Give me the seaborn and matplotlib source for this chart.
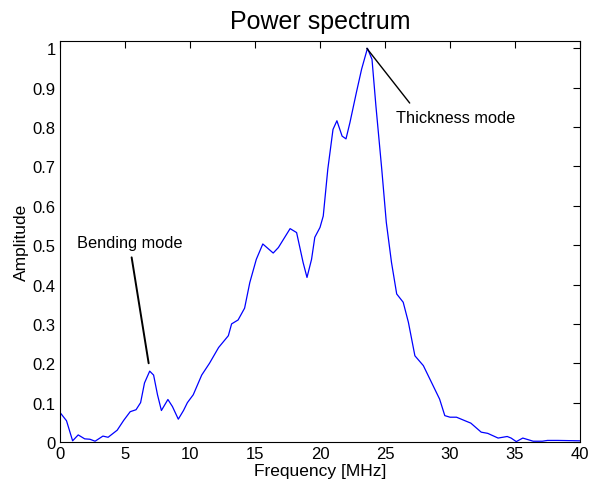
import pandas as pd
import seaborn as sns
import matplotlib
matplotlib.use("Agg")
import matplotlib.pyplot as plt

# values
freq_mhz = [0, 0.5, 0.97, 1.4, 1.9, 2.3, 2.7, 3.3, 3.7, 4.4,
            4.9, 5.4, 5.85, 6.2, 6.5, 6.9, 7.2, 7.5, 7.8, 8.3,
            8.65, 9.1, 9.5, 9.8, 10.25, 10.9, 11.5, 12.2, 12.95, 13.2,
            13.7, 14.2, 14.6, 15.1, 15.6, 16.4, 16.8, 17.7, 18.2, 18.7,
            19.0, 19.35, 19.6, 20.0, 20.25, 20.6, 21.0, 21.3, 21.7, 22.0,
            22.3, 22.8, 23.2, 23.65, 24.0, 24.3, 24.75, 25.1, 25.5, 25.9,
            26.4, 26.8, 27.3, 27.95, 28.7, 29.2, 29.6, 30.0, 30.5, 31.3,
            31.6, 32.4, 32.9, 33.7, 34.4, 34.7, 35.1, 35.6, 36.4, 37.1,
            37.5, 38.3, 40.0]
amplitude = [0.075, 0.054, 0.003, 0.018, 0.008, 0.007, 0.002, 0.015, 0.012, 0.03,
             0.055, 0.077, 0.082, 0.10, 0.15, 0.18, 0.17, 0.12, 0.08, 0.108,
             0.09, 0.058, 0.08, 0.10, 0.12, 0.17, 0.20, 0.24, 0.27, 0.30,
             0.31, 0.34, 0.405, 0.464, 0.503, 0.48, 0.494, 0.542, 0.532, 0.456,
             0.418, 0.464, 0.52, 0.545, 0.574, 0.693, 0.794, 0.816, 0.777, 0.77,
             0.811, 0.888, 0.947, 1.0, 0.972, 0.854, 0.693, 0.558, 0.456, 0.376,
             0.355, 0.304, 0.219, 0.194, 0.143, 0.109, 0.067, 0.063, 0.063, 0.052,
             0.048, 0.025, 0.022, 0.01, 0.014, 0.01, 0.001, 0.01, 0.002, 0.002,
             0.004, 0.004, 0.003]

x_ticks = [0, 5, 10, 15, 20, 25, 30, 35, 40]
y_ticks = [0, 0.1, 0.2, 0.3, 0.4, 0.5, 0.6, 0.7, 0.8, 0.9, 1]
y_tick_labels = ["0", "0.1", "0.2", "0.3", "0.4", "0.5", "0.6", "0.7", "0.8", "0.9", "1"]

# annotation text anchors and pointer lines (data coords)
bend_text = (1.3, 0.508)
bend_line_x = [5.51, 6.82]
bend_line_y = [0.469, 0.20]
thick_text = (25.85, 0.824)
thick_line_x = [23.6, 26.9]
thick_line_y = [1.0, 0.861]

df = pd.DataFrame({"Frequency": freq_mhz, "Amplitude": amplitude})

sns.set_style("white")
plt.rcParams["font.family"] = ["Liberation Sans", "DejaVu Sans"]
plt.rcParams["text.color"] = "black"
plt.rcParams["axes.labelcolor"] = "black"

fig = plt.figure(figsize=(6.01, 4.85), dpi=100)
# axes box spans x 60..580, y 42..443 px
ax = fig.add_axes([60 / 601, 1 - 443 / 485, 520 / 601, 401 / 485])

sns.lineplot(data=df, x="Frequency", y="Amplitude", color="#0000ff",
             linewidth=0.9, ax=ax)

# MATLAB-style text + plain line annotations
ax.plot(bend_line_x, bend_line_y, color="black", lw=1.4)
ax.text(*bend_text, "Bending mode", fontsize=11.8, va="center", ha="left")
ax.plot(thick_line_x, thick_line_y, color="black", lw=1.0)
ax.text(*thick_text, "Thickness mode", fontsize=11.8, va="center", ha="left")

ax.set_xlim(0, 40)
ax.set_ylim(0, 1.0186)
ax.set_xticks(x_ticks)
ax.set_yticks(y_ticks)
ax.set_yticklabels(y_tick_labels)
ax.tick_params(direction="in", length=5, width=0.8, top=True, right=True,
               labelsize=12, colors="black", pad=3)
for s in ax.spines.values():
    s.set_color("black")
    s.set_linewidth(0.8)

ax.set_title("Power spectrum", fontsize=18, pad=9)
ax.set_xlabel("Frequency [MHz]", fontsize=12.5, labelpad=1)
ax.set_ylabel("Amplitude", fontsize=12.5, labelpad=3)

fig.savefig("out.png", dpi=100)
